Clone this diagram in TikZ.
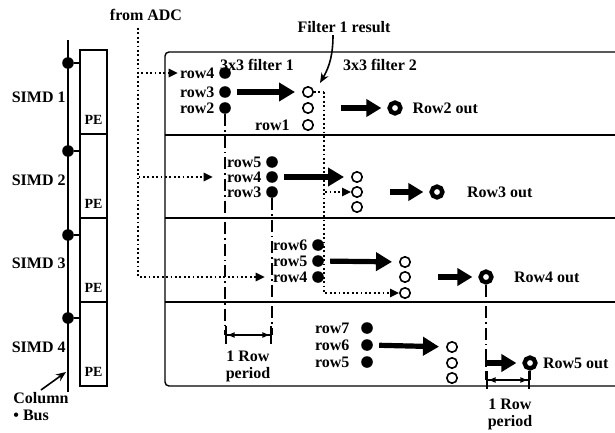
\documentclass[tikz,border=0pt]{standalone}
\usepackage{fontspec}
\setmainfont{Liberation Serif}
\usetikzlibrary{positioning, arrows.meta}

\begin{document}
\begin{tikzpicture}[
  x=0.5pt, y=0.5pt,
  every node/.style={font=\fontsize{8}{8.5}\selectfont\bfseries, inner sep=1pt},
  pebox/.style={draw, line width=1pt, minimum width=13.5pt, minimum height=42pt, inner sep=0pt},
  petxt/.style={font=\fontsize{7}{8}\selectfont\bfseries, inner sep=0pt},
  fdot/.style={circle, fill=black, inner sep=0pt, minimum size=5.8pt},
  odot/.style={circle, draw, line width=0.8pt, inner sep=0pt, minimum size=5.2pt},
  ring/.style={circle, draw, line width=2.2pt, inner sep=0pt, minimum size=5.4pt},
  frame/.style={line width=0.7pt},
  bus/.style={line width=1pt},
  bigarr/.style={-{Triangle[length=8pt,width=9pt]}, line width=2.6pt, shorten <=3pt, shorten >=3.5pt},
  outarr/.style={-{Triangle[length=7.5pt,width=8.5pt]}, line width=2.6pt, shorten <=13.5pt, shorten >=3pt},
  dotline/.style={line width=0.9pt, dash pattern=on 0.9pt off 1.3pt},
  dotarr/.style={dotline, -{Triangle[length=4.5pt,width=4.2pt]}},
  dashdot/.style={line width=0.7pt, dash pattern=on 6pt off 2pt on 0.8pt off 2pt},
  perarr/.style={{Bar[width=9pt]Latex[length=4pt]}-{Latex[length=4pt]Bar[width=9pt]}, line width=0.8pt},
  thinarr/.style={-{Stealth[length=5pt,width=4pt]}, line width=0.8pt}
]
\useasboundingbox (0,0) rectangle (615,-433);

\draw[bus] (68,-40) -- (68,-392);
\node[pebox] (pe1) at (93.5,-92) {};
\node[pebox] (pe2) at (93.5,-176) {};
\node[pebox] (pe3) at (93.5,-260) {};
\node[pebox] (pe4) at (93.5,-344) {};
\node[petxt, above=5pt of pe1.south] (pe1t) {PE};
\node[petxt, above=5pt of pe2.south] (pe2t) {PE};
\node[petxt, above=5pt of pe3.south] (pe3t) {PE};
\node[petxt, above=5pt of pe4.south] (pe4t) {PE};
\node[fdot] (bd1) at (68,-63) {};
\node[fdot] (bd2) at (68,-151) {};
\node[fdot] (bd3) at (68,-235) {};
\node[fdot] (bd4) at (68,-318) {};
\draw[bus] (bd1) -- (bd1 -| pe1.west);
\draw[bus] (bd2) -- (bd2 -| pe2.west);
\draw[bus] (bd3) -- (bd3 -| pe3.west);
\draw[bus] (bd4) -- (bd4 -| pe4.west);
\node[anchor=east] (simd1) at (68,-97) {SIMD 1};
\node[anchor=east] (simd2) at (68,-180) {SIMD 2};
\node[anchor=east] (simd3) at (68,-263) {SIMD 3};
\node[anchor=east] (simd4) at (68,-347) {SIMD 4};
\node[align=left, anchor=north west] (col) at (11,-390) {Column\\• Bus};
\coordinate (bustip) at (66,-372);
\draw[thinarr] (col.north) -- (bustip);

\draw[frame, rounded corners=2pt] (615,-52) -- (165,-52) -- (165,-386) -- (615,-386);
\draw[frame] (165,-135) -- (615,-135);
\draw[frame] (165,-218) -- (615,-218);
\draw[frame] (165,-302) -- (615,-302);

\node (adclbl) at (146,-15) {from ADC};
\node (f1res) at (344,-27) {Filter 1 result};
\node (flt1) at (257,-65) {3x3 filter 1};
\node (flt2) at (380,-65) {3x3 filter 2};

\node[fdot] (s1d1) at (225,-73) {};
\node[fdot] (s1d2) at (225,-92) {};
\node[fdot] (s1d3) at (225,-108) {};
\node[left=1pt of s1d1] (s1r4) {row4};
\node[left=1pt of s1d2] (s1r3) {row3};
\node[left=1pt of s1d3] (s1r2) {row2};
\node[odot] (s1c1) at (308,-92) {};
\node[odot] (s1c2) at (308,-108) {};
\node[odot] (s1c3) at (308,-125) {};
\node[left=5pt of s1c3] (s1r1) {row1};
\node[ring] (s1o) at (395,-108) {};
\node[right=3.75pt of s1o] (s1out) {Row2 out};
\draw[bigarr] (s1d2) -- (s1c1);
\draw[outarr] (s1c2) -- (s1o);

\node[fdot] (s2d1) at (272,-162) {};
\node[fdot] (s2d2) at (272,-177) {};
\node[fdot] (s2d3) at (272,-192) {};
\node[left=1pt of s2d1] (s2r5) {row5};
\node[left=1pt of s2d2] (s2r4) {row4};
\node[left=1pt of s2d3] (s2r3) {row3};
\node[odot] (s2c1) at (357,-177) {};
\node[odot] (s2c2) at (357,-192) {};
\node[odot] (s2c3) at (357,-207) {};
\node[ring] (s2o) at (437,-192) {};
\node[right=10pt of s2o] (s2out) {Row3 out};
\draw[bigarr] (s2d2) -- (s2c1);
\draw[outarr] (s2c2) -- (s2o);

\node[fdot] (s3d1) at (318,-245) {};
\node[fdot] (s3d2) at (318,-261) {};
\node[fdot] (s3d3) at (318,-277) {};
\node[left=1pt of s3d1] (s3r6) {row6};
\node[left=1pt of s3d2] (s3r5) {row5};
\node[left=1pt of s3d3] (s3r4) {row4};
\node[odot] (s3c1) at (405,-262) {};
\node[odot] (s3c2) at (405,-277) {};
\node[odot] (s3c3) at (405,-293) {};
\node[ring] (s3o) at (486,-277) {};
\node[right=9pt of s3o] (s3out) {Row4 out};
\draw[bigarr] (s3d2) -- (s3c1);
\draw[outarr] (s3c2) -- (s3o);

\node[fdot] (s4d1) at (367,-328) {};
\node[fdot] (s4d2) at (367,-345) {};
\node[fdot] (s4d3) at (367,-362) {};
\node[left=4.5pt of s4d1] (s4r7) {row7};
\node[left=4.5pt of s4d2] (s4r6) {row6};
\node[left=4.5pt of s4d3] (s4r5) {row5};
\node[odot] (s4c1) at (452,-347) {};
\node[odot] (s4c2) at (452,-363) {};
\node[odot] (s4c3) at (452,-378) {};
\node[ring] (s4o) at (530,-363) {};
\node[right=1.5pt of s4o] (s4out) {Row5 out};
\draw[bigarr] (s4d2) -- (s4c1);
\draw[outarr] (s4c2) -- (s4o);

\coordinate (adc) at (138,-28);
\draw[dotarr] (adc) |- (s1r4.west);
\draw[dotarr, shorten >=6pt] (adc) |- (s2r4.west);
\draw[dotarr, shorten >=3pt] (adc) |- (s3r4.west);

\coordinate (f1) at (324,-92);
\coordinate (ftip) at (320,-83);
\draw[dotline] (s1c1) -- (f1);
\draw[dotarr] (f1) |- (s2c2);
\draw[dotarr] (f1) |- (s3c3);
\draw[thinarr] ([xshift=-5.5pt]f1res.south) to[bend left=15] (ftip);

\coordinate (p1a) at (225,-335);
\coordinate (p1b) at (272,-335);
\draw[dashdot] (s1d3) -- (p1a);
\draw[dashdot] (s2d3) -- (p1b);
\draw[perarr] (p1a) -- (p1b);
\node[align=center] (per1) at (248,-366) {1 Row\\period};

\coordinate (p2a) at (486,-380);
\coordinate (p2b) at (530,-380);
\draw[dashdot] (s3o) -- (p2a);
\draw[line width=0.7pt] (s4o) -- (p2b);
\draw[perarr] (p2a) -- (p2b);
\node[align=center] (per2) at (510,-414) {1 Row\\period};
\end{tikzpicture}
\end{document}
